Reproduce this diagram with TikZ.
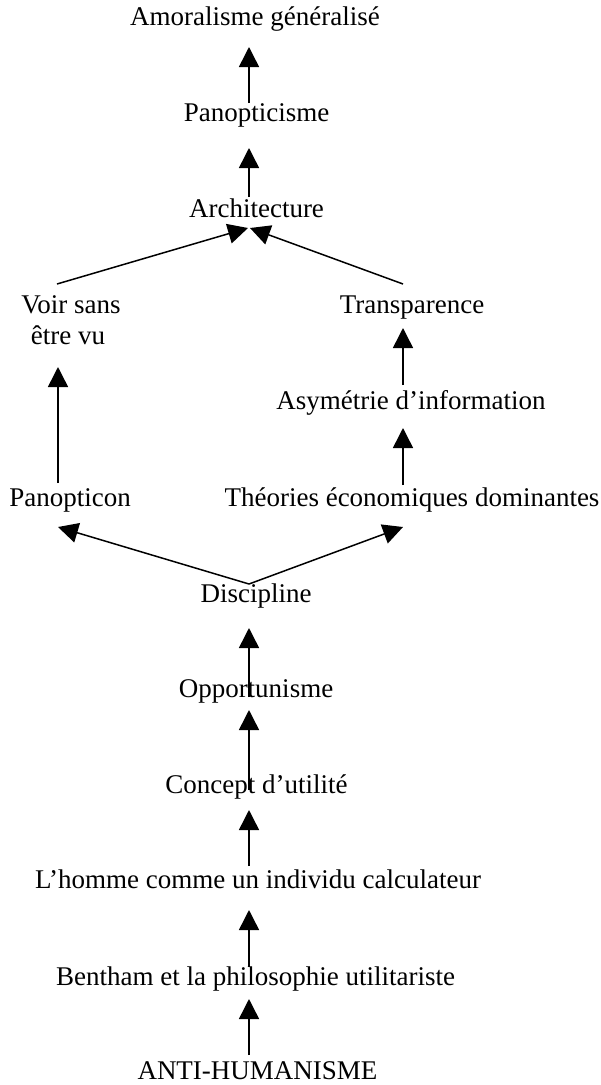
\documentclass[tikz,border=0pt]{standalone}
\usepackage{fontspec}
\setmainfont{Liberation Serif}
\usetikzlibrary{arrows.meta}
\begin{document}
\begin{tikzpicture}[x=1pt,y=-1pt,
  lbl/.style={anchor=base,inner sep=0pt,font=\fontsize{27}{31}\selectfont},
  conn/.style={line width=1.5pt,-{Triangle[length=20pt,width=20pt]}}]
\useasboundingbox (0,0) rectangle (601,1085);
% nodes
\node[lbl] (amor) at (255,25) {Amoralisme généralisé};
\node[lbl] (pano) at (256.5,121) {Panopticisme};
\node[lbl] (arch) at (256.5,217) {Architecture};
\node[lbl] (voir) at (71,313) {Voir sans};
\node[lbl] (etre) at (68,344) {être vu};
\node[lbl] (trans) at (412,313) {Transparence};
\node[lbl] (asym) at (411,409) {Asymétrie d’information};
\node[lbl] (ptcon) at (70,506) {Panopticon};
\node[lbl] (theo) at (412,506) {Théories économiques dominantes};
\node[lbl] (disc) at (256,602) {Discipline};
\node[lbl] (oppo) at (256,697) {Opportunisme};
\node[lbl] (conc) at (256.5,793) {Concept d’utilité};
\node[lbl] (homme) at (258,888) {L’homme comme un individu calculateur};
\node[lbl] (bent) at (255.5,985) {Bentham et la philosophie utilitariste};
\node[lbl] (anti) at (257.5,1079) {ANTI-HUMANISME};
% connector end points
\coordinate (amorIn) at (249,47);
\coordinate (panoOut) at (249,103);
\coordinate (panoIn) at (249,148);
\coordinate (archOut) at (249,197);
\coordinate (archInL) at (248,228);
\coordinate (archInR) at (250,228);
\coordinate (voirOut) at (57,284);
\coordinate (transOut) at (403,284);
\coordinate (etreIn) at (58,367);
\coordinate (transIn) at (403,328);
\coordinate (asymOut) at (403,385);
\coordinate (asymIn) at (403,428);
\coordinate (theoOut) at (403,485);
\coordinate (ptconOut) at (58,483);
\coordinate (ptconIn) at (58,527);
\coordinate (theoIn) at (403,527);
\coordinate (discOut) at (249,584);
\coordinate (discIn) at (249,628);
\coordinate (oppoOut) at (249,697);
\coordinate (oppoIn) at (249,710);
\coordinate (concOut) at (249,790);
\coordinate (concIn) at (249,810);
\coordinate (hommeOut) at (249,866);
\coordinate (hommeIn) at (249,910);
\coordinate (bentOut) at (249,967);
\coordinate (bentIn) at (249,999);
\coordinate (antiOut) at (249,1055);
% connectors
\draw[conn] (panoOut) -- (amorIn);
\draw[conn] (archOut) -- (panoIn);
\draw[conn] (voirOut) -- (archInL);
\draw[conn] (transOut) -- (archInR);
\draw[conn] (ptconOut) -- (etreIn);
\draw[conn] (asymOut) -- (transIn);
\draw[conn] (theoOut) -- (asymIn);
\draw[conn] (discOut) -- (ptconIn);
\draw[conn] (discOut) -- (theoIn);
\draw[conn] (oppoOut) -- (discIn);
\draw[conn] (concOut) -- (oppoIn);
\draw[conn] (hommeOut) -- (concIn);
\draw[conn] (bentOut) -- (hommeIn);
\draw[conn] (antiOut) -- (bentIn);
\end{tikzpicture}
\end{document}
